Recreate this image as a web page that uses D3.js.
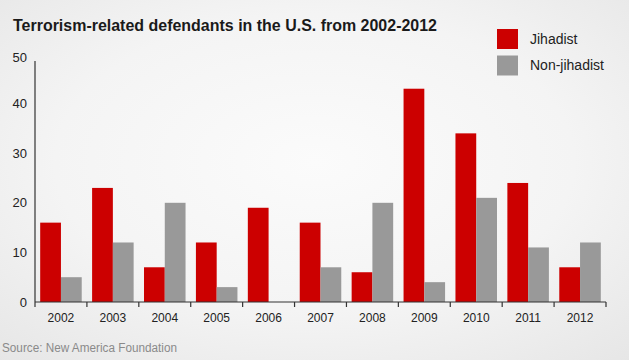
<!DOCTYPE html>
<html><head><meta charset="utf-8">
<script src="https://cdn.jsdelivr.net/npm/d3@7"></script>
<style>body{margin:0;padding:0;overflow:hidden}svg{display:block}</style>
</head><body>
<script>
const years = ["2002","2003","2004","2005","2006","2007","2008","2009","2010","2011","2012"];
const seriesNames = ["Jihadist","Non-jihadist"];
const jihadist = [16,23,7,12,19,16,6,43,34,24,7];
const nonJihadist = [5,12,20,3,0,7,20,4,21,11,12];
const yTicks = [0,10,20,30,40,50];
const title = "Terrorism-related defendants in the U.S. from 2002-2012";
const source = "Source: New America Foundation";
const colors = ["#cc0000","#999999"];

const W = 629, H = 360;
const svg = d3.select("body").append("svg").attr("width", W).attr("height", H)
  .style("font-family", "'Liberation Sans', Arial, sans-serif");

const defs = svg.append("defs");
const grad = defs.append("radialGradient").attr("id","bg").attr("cx","50%").attr("cy","45%").attr("r","75%");
grad.append("stop").attr("offset","0%").attr("stop-color","#fbfbfb");
grad.append("stop").attr("offset","55%").attr("stop-color","#f4f4f4");
grad.append("stop").attr("offset","100%").attr("stop-color","#e6e6e6");
svg.append("rect").attr("width",W).attr("height",H).attr("fill","url(#bg)");

const x0 = d3.scaleBand().domain(years).range([35, 606]).paddingInner(0.2).paddingOuter(0.1);
const x1 = d3.scaleBand().domain(seriesNames).range([0, x0.bandwidth()]);
const y = d3.scaleLinear().domain([0, 50]).range([302, 54]);

const data = years.map((yr, i) => ({year: yr, values: [jihadist[i], nonJihadist[i]]}));

const g = svg.append("g");
g.selectAll("g.grp").data(data).join("g").attr("class","grp")
  .attr("transform", d => `translate(${x0(d.year)},0)`)
  .selectAll("rect").data(d => d.values.map((v, k) => ({k, v})))
  .join("rect")
  .attr("x", d => x1(seriesNames[d.k]))
  .attr("width", x1.bandwidth())
  .attr("y", d => y(d.v))
  .attr("height", d => y(0) - y(d.v))
  .attr("fill", d => colors[d.k]);

// y axis
const step = x0.step();
const xLeft = x0(years[0]) - x0.paddingOuter() * step;
const xRight = x0(years[years.length-1]) + x0.bandwidth() + x0.paddingOuter() * step;
svg.append("line").attr("x1", xLeft).attr("x2", xLeft).attr("y1", y(0)).attr("y2", y(50) + 7)
  .attr("stroke", "#333").attr("stroke-width", 1.2);
svg.selectAll("text.ytick").data(yTicks).join("text").attr("class","ytick")
  .attr("x", 27).attr("y", d => y(d) + (d === 50 ? 3 : 0)).attr("dy", "0.35em").attr("text-anchor","end")
  .attr("font-size", 13).attr("fill", "#222").text(d => d);

// x axis
svg.append("line").attr("x1", xLeft).attr("x2", xRight).attr("y1", y(0)).attr("y2", y(0))
  .attr("stroke", "#333").attr("stroke-width", 1.2);
const boundaries = years.map(yr => x0(yr) - x0.paddingInner() * step / 2).slice(1);
boundaries.unshift(xLeft);
boundaries.push(xRight);
svg.selectAll("line.xtick").data(boundaries).join("line").attr("class","xtick")
  .attr("x1", d => d).attr("x2", d => d).attr("y1", y(0)).attr("y2", y(0) + 5)
  .attr("stroke", "#333").attr("stroke-width", 1.2);
svg.selectAll("text.xlab").data(years).join("text").attr("class","xlab")
  .attr("x", d => x0(d) + x0.bandwidth() / 2).attr("y", 322)
  .attr("text-anchor","middle").attr("font-size", 12).attr("fill","#222").text(d => d);

// title
svg.append("text").attr("x", 13).attr("y", 31).attr("font-size", 17).attr("font-weight","bold")
  .attr("textLength", 424).attr("lengthAdjust", "spacingAndGlyphs")
  .attr("fill","#1a1a1a").text(title);

// legend
const leg = svg.append("g");
seriesNames.forEach((s, i) => {
  leg.append("rect").attr("x", 497).attr("y", 29 + i * 26.5).attr("width", 21).attr("height", 20).attr("fill", colors[i]);
  leg.append("text").attr("x", 530).attr("y", 39 + i * 26.5).attr("dy","0.35em")
    .attr("font-size", 14).attr("fill","#222").text(s);
});

// source
svg.append("text").attr("x", 2).attr("y", 352).attr("font-size", 12.5).attr("textLength", 175)
  .attr("lengthAdjust", "spacingAndGlyphs").attr("fill","#8a8a8a").text(source);
</script>
</body></html>
